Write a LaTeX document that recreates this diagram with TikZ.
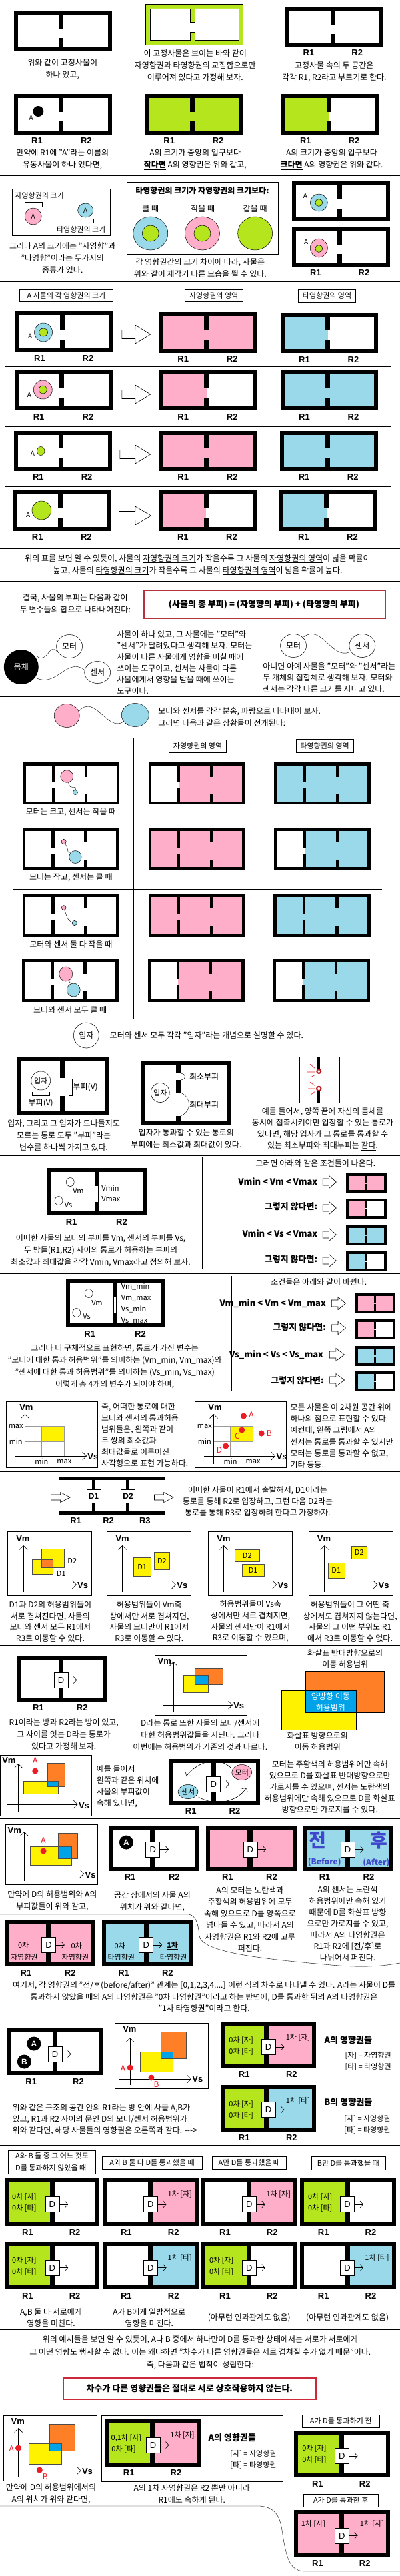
\documentclass[tikz,border=0pt]{standalone}
\usepackage{fontspec}
\setmainfont{Noto Sans CJK KR}
\newfontfamily\arial{Liberation Sans}
\usetikzlibrary{arrows.meta}
\definecolor{cgreen}{HTML}{B5E61D}
\definecolor{cpink}{HTML}{FFAEC9}
\definecolor{cblue}{HTML}{99D9EA}
\definecolor{cyel}{HTML}{FFF200}
\definecolor{corange}{HTML}{FF7F27}
\definecolor{cazure}{HTML}{00A2E8}
\definecolor{cred}{HTML}{ED1C24}
\definecolor{cindigo}{HTML}{3F48CC}
\definecolor{boxred}{HTML}{B3343F}
\definecolor{boxred2}{HTML}{CC2A3A}
\newcounter{nn}
\newcommand\T[3][]{\stepcounter{nn}\node[txt,#1] (n\arabic{nn}) at (#2) {#3};}
\newcommand\RL[3]{\stepcounter{nn}\node[lab] (n\arabic{nn}) at (#1,#3) {R1};\stepcounter{nn}\node[lab] (n\arabic{nn}) at (#2,#3) {R2};}
\newcommand\D[2]{\stepcounter{nn}\node[dbox] (n\arabic{nn}) at (#1,#2) {D};\draw[barb] (n\arabic{nn}.east) -- ++(13pt,0pt);}
% x1 y1 x2 y2 dx gy1 gy2 cL cR
\newcommand\room[9]{%
 \fill[black] (#1,#2) rectangle (#3,#4);
 \fill[#8] ({#1+15.7},{#2+6}) rectangle (#5,{#4-6});
 \fill[#9] (#5,{#2+6}) rectangle ({#3-15.7},{#4-6});
 \fill[black] ({#5-9.5},#2) rectangle ({#5+9.5},#6);
 \fill[black] ({#5-9.5},#7) rectangle ({#5+9.5},#4);}
% x1 y1 x2 y2 d1 d2 c1 c2 c3
\newcommand\roomthree[9]{%
 \fill[black] (#1,#2) rectangle (#3,#4);
 \fill[#7] ({#1+11.8},{#2+4.5}) rectangle (#5,{#4-4.5});
 \fill[#8] (#5,{#2+4.5}) rectangle (#6,{#4-4.5});
 \fill[#9] (#6,{#2+4.5}) rectangle ({#3-11.8},{#4-4.5});
 \fill[black] ({#5-5.5},#2) rectangle ({#5+5.5},{#2+30});
 \fill[black] ({#5-5.5},{#2+39}) rectangle ({#5+5.5},#4);
 \fill[black] ({#6-5.5},#2) rectangle ({#6+5.5},{#2+22});
 \fill[black] ({#6-5.5},{#2+48}) rectangle ({#6+5.5},#4);}
% x1 y1 x2 y2 dx cL cR
\newcommand\minibox[7]{%
 \fill[black] (#1,#2) rectangle (#3,#4);
 \fill[#6] ({#1+10.5},{#2+4}) rectangle (#5,{#4-4});
 \fill[#7] (#5,{#2+4}) rectangle ({#3-10.5},{#4-4});
 \fill[black] ({#5-4},#2) rectangle ({#5+4},{(#2+#4)/2-1});
 \fill[black] ({#5-4},{(#2+#4)/2+1}) rectangle ({#5+4},#4);}
% x1 hx x2 yc shaft head
\newcommand\barrow[6]{\filldraw[fill=white,draw=black,line width=0.6pt] (#1,{#4-#5}) -- (#2,{#4-#5}) -- (#2,{#4-#6}) -- (#3,#4) -- (#2,{#4+#6}) -- (#2,{#4+#5}) -- (#1,{#4+#5}) -- cycle;}
\tikzset{
 txt/.style={font=\fontsize{12}{18}\selectfont, align=center, inner sep=0pt},
 mid/.style={font=\fontsize{11}{13}\selectfont},
 small/.style={font=\fontsize{10}{12}\selectfont},
 lab/.style={font=\arial\bfseries\fontsize{13}{15}\selectfont, inner sep=0pt},
 gl/.style={font=\arial\bfseries\fontsize{13}{15}\selectfont},
 bld/.style={font=\bfseries\fontsize{13}{16}\selectfont},
 sep/.style={line width=0.8pt},
 dbox/.style={draw, fill=white, line width=0.6pt, minimum width=21pt, minimum height=23pt, inner sep=0pt, font=\arial\fontsize{13}{15}\selectfont},
 barb/.style={-{Straight Barb[length=4.5pt,width=10pt]}, line width=0.6pt},
 ax/.style={-{Straight Barb[length=6pt,width=12pt]}, line width=0.6pt},
 gbox/.style={draw, line width=0.7pt},
 ell/.style={draw=black, line width=0.5pt},
 hbox/.style={draw, line width=0.6pt},
 rl/.style={draw=black!70, line width=0.4pt}
}
\begin{document}
\begin{tikzpicture}[x=0.38265pt,y=-1pt]
\useasboundingbox (0,0) rectangle (1568,3862);
\fill[white] (0,0) rectangle (1568,3862);
%% ---------- Section 1
\room{55}{16}{438}{77}{240}{43}{57}{white}{white}
\T{245,103.5}{위와 같이 고정사물이\\하나 있고,}
\filldraw[fill=cgreen,draw=black,line width=0.5pt] (570,6) rectangle (952,67);
\filldraw[fill=white,draw=black,line width=0.5pt] (588,13) -- (745,13) -- (745,33) -- (765,33) -- (765,13) -- (935,13) -- (935,60) -- (765,60) -- (765,48) -- (745,48) -- (745,60) -- (588,60) -- cycle;
\T{765,98.5}{이 고정사물은 보이는 바와 같이\\자영향권과 타영향권의 교집합으로만\\이루어져 있다고 가정해 보자.}
\room{1118}{10}{1502}{71}{1305}{37}{51}{white}{white}
\RL{1210}{1400}{79}
\T{1310,107.5}{고정사물 속의 두 공간은\\각각 R1, R2라고 부르기로 한다.}
\draw[sep] (0,130) -- (1568,130);
%% ---------- Section 2
\room{55}{141}{438}{202}{240}{168}{182}{white}{white}
\fill (150,167) circle[radius=8pt];
\T[small]{122,177}{A}
\RL{145}{338}{211}
\T{245,239}{만약에 R1에 "A"라는 이름의\\유동사물이 하나 있다면,}
\room{570}{141}{952}{202}{755}{168}{182}{cgreen}{cgreen}
\RL{663}{855}{211}
\T{765,239}{A의 크기가 중앙의 입구보다\\\underline{\textbf{작다면}} A의 영향권은 위와 같고,}
\room{1103}{141}{1487}{202}{1290}{168}{182}{cgreen}{white}
\RL{1198}{1388}{211}
\T{1300,239}{A의 크기가 중앙의 입구보다\\\underline{\textbf{크다면}} A의 영향권은 위와 같다.}
\draw[sep] (0,263) -- (1568,263);
%% ---------- Section 3
\draw[line width=0.6pt] (48,283) rectangle (432,353);
\T[mid,anchor=west]{58,293}{자영향권의 크기}
\draw (97,310) -- (97,303) -- (165,303) -- (165,310);
\filldraw[ell,fill=cpink] (130,324.5) ellipse[x radius=12.5pt,y radius=12.5pt];
\T[small]{130,324.5}{A}
\filldraw[ell,fill=cblue] (335,315.5) ellipse[x radius=11.5pt,y radius=10.5pt];
\T[small]{335,315.5}{A}
\draw (317,328) -- (317,334) -- (367,334) -- (367,328);
\T[mid]{318,344}{타영향권의 크기}
\T{245,387}{그러나 A의 크기에는 "자영향"과\\"타영향"이라는 두가지의\\종류가 있다.}
\draw[line width=0.6pt] (498,273) rectangle (1090,381);
\T[font=\bfseries\fontsize{12}{14}\selectfont]{793,286}{타영향권의 크기가 자영향권의 크기보다:}
\T{590,313}{클 때}
\T{795,313}{작을 때}
\T{1000,313}{같을 때}
\filldraw[ell,fill=cblue] (590,350) ellipse[x radius=26pt,y radius=25pt];
\filldraw[ell,fill=cgreen] (590,350) ellipse[x radius=12.5pt,y radius=12pt];
\filldraw[ell,fill=cpink] (793,350) ellipse[x radius=26pt,y radius=25pt];
\filldraw[ell,fill=cgreen] (793,350) ellipse[x radius=12.5pt,y radius=12pt];
\filldraw[ell,fill=cgreen] (1000,350) ellipse[x radius=26pt,y radius=25pt];
\T{785,401.5}{각 영향권간의 크기 차이에 따라, 사물은\\위와 같이 제각기 다른 모습을 띌 수 있다.}
\room{1145}{272}{1528}{332}{1330}{299}{313}{white}{white}
\T[small]{1197,294}{A}
\filldraw[ell,fill=cblue] (1250,304) ellipse[x radius=13pt,y radius=13pt];
\filldraw[ell,fill=cgreen] (1250,304) ellipse[x radius=5.5pt,y radius=5.5pt];
\room{1145}{340}{1528}{400}{1330}{367}{381}{white}{white}
\T[small]{1200,363}{A}
\filldraw[ell,fill=cpink] (1250,372) ellipse[x radius=13pt,y radius=14pt];
\filldraw[ell,fill=cgreen] (1250,373) ellipse[x radius=5.5pt,y radius=5.5pt];
\RL{1237}{1427}{409}
\draw[sep] (0,422) -- (1568,422);
%% ---------- Section 4 table
\draw (513,427) -- (513,816);
\draw[hbox] (77,434) rectangle (442,452); \T[mid]{260,443}{A 사물의 각 영향권의 크기}
\draw[hbox] (725,434) rectangle (952,452); \T[mid]{838,443}{자영향권의 영역}
\draw[hbox] (1170,434) rectangle (1395,453); \T[mid]{1282,443.5}{타영향권의 영역}
% row 1
\room{60}{467}{443}{528}{245}{494}{509}{white}{white}
\filldraw[ell,fill=cblue] (170,498) ellipse[x radius=13.5pt,y radius=14pt];
\filldraw[ell,fill=cgreen] (170,498) ellipse[x radius=6.5pt,y radius=6pt];
\T[small]{118,504}{A}
\barrow{478}{530}{590}{501}{6.5}{14}
\room{625}{468}{1008}{529}{810}{495}{509}{cpink}{cpink}
\room{1100}{469}{1483}{529}{1285}{495}{509}{cblue}{white}
\RL{155}{345}{537}\RL{718}{910}{538}\RL{1193}{1385}{539}
\draw (22,549) -- (1532,549);
% row 2
\room{58}{555}{442}{615}{242}{582}{596}{white}{white}
\filldraw[ell,fill=cpink] (168,584) ellipse[x radius=14pt,y radius=14pt];
\filldraw[ell,fill=cgreen] (168,584) ellipse[x radius=6pt,y radius=6pt];
\T[small]{115,592}{A}
\barrow{478}{530}{590}{591}{6.5}{14}
\room{625}{555}{1008}{615}{810}{582}{596}{cpink}{white}
\room{1100}{555}{1483}{615}{1285}{582}{596}{cblue}{cblue}
\RL{152}{345}{625}\RL{718}{910}{625}\RL{1193}{1385}{625}
\draw (22,639) -- (1532,639);
% row 3
\room{55}{646}{438}{706}{240}{672}{686}{white}{white}
\filldraw[ell,fill=cgreen] (160,676) ellipse[x radius=5.7pt,y radius=6.5pt];
\T[small]{128,680}{A}
\barrow{470}{530}{590}{681}{6.5}{14}
\room{625}{646}{1008}{706}{810}{672}{686}{cpink}{cpink}
\room{1098}{646}{1482}{706}{1283}{672}{686}{cblue}{cblue}
\RL{150}{340}{715}\RL{718}{910}{715}\RL{1192}{1383}{715}
\draw (22,729) -- (1532,729);
% row 4
\room{52}{735}{435}{796}{237}{762}{776}{white}{white}
\filldraw[ell,fill=cgreen] (163,765) ellipse[x radius=14.4pt,y radius=14pt];
\T[small]{110,772}{A}
\barrow{466}{530}{592}{773}{6.5}{14}
\room{622}{735}{1005}{796}{808}{762}{776}{cpink}{white}
\room{1095}{735}{1478}{796}{1280}{762}{776}{cblue}{white}
\RL{147}{338}{805}\RL{717}{908}{805}\RL{1190}{1381}{805}
\draw[sep] (0,822) -- (1568,822);
%% ---------- Section 5
\T{775,846.5}{위의 표를 보면 알 수 있듯이, 사물의 \underline{자영향권의 크기}가 작을수록 그 사물의 \underline{자영향권의 영역}이 넓을 확률이\\높고, 사물의 \underline{타영향권의 크기}가 작을수록 그 사물의 \underline{타영향권의 영역}이 넓을 확률이 높다.}
\draw[sep] (0,871) -- (1568,871);
\T{295,905.5}{결국, 사물의 부피는 다음과 같이\\두 변수들의 합으로 나타내어진다:}
\draw[draw=boxred,line width=2pt] (565,885) rectangle (1510,927);
\T[bld]{1035,906}{(사물의 총 부피) = (자영향의 부피) + (타영향의 부피)}
\draw[sep] (0,938) -- (1568,938);
%% ---------- Section 6
\draw (145,984) .. controls (185,996) and (195,962) .. (224,977);
\draw (140,1016) .. controls (220,1032) and (262,985) .. (330,1004);
\fill[black] (83,1000) circle[radius=26pt];
\T[text=white]{83,1000}{몸체}
\filldraw[ell,fill=white] (272,969) ellipse[x radius=19.5pt,y radius=17.5pt];
\T{272,969}{모터}
\filldraw[ell,fill=white] (382,1008) ellipse[x radius=19.5pt,y radius=16.5pt];
\T{382,1008}{센서}
\T[font=\fontsize{12}{17}\selectfont,align=left,anchor=west]{458,993.5}{사물이 하나 있고, 그 사물에는 "모터"와\\"센서"가 달려있다고 생각해 보자. 모터는\\사물이 다른 사물에게 영향을 미칠 때에\\쓰이는 도구이고, 센서는 사물이 다른\\사물에게서 영향을 받을 때에 쓰이는\\도구이다.}
\draw (1190,955) .. controls (1260,935) and (1300,988) .. (1368,978);
\filldraw[ell,fill=white] (1150,968) ellipse[x radius=19.5pt,y radius=17.5pt];
\T{1150,968}{모터}
\filldraw[ell,fill=white] (1420,968) ellipse[x radius=19.5pt,y radius=17.5pt];
\T{1420,968}{센서}
\T[font=\fontsize{12}{17}\selectfont,align=left,anchor=west]{1030,1016.5}{아니면 아예 사물을 "모터"와 "센서"라는\\두 개체의 집합체로 생각해 보자. 모터와\\센서는 각각 다른 크기를 지니고 있다.}
\draw[sep] (0,1044) -- (1568,1044);
%% ---------- Section 7
\draw (310,1066) .. controls (370,1040) and (420,1096) .. (480,1083);
\filldraw[ell,fill=cpink] (262,1073) ellipse[x radius=19pt,y radius=17.5pt];
\filldraw[ell,fill=cblue] (530,1072) ellipse[x radius=20.5pt,y radius=17.5pt];
\T[align=left,anchor=west]{620,1074.5}{모터와 센서를 각각 분홍, 파랑으로 나타내어 보자.\\그러면 다음과 같은 상황들이 전개된다:}
\draw (524,1106) -- (524,1527);
\draw[hbox] (662,1109) rectangle (888,1128); \T[mid]{775,1118.5}{자영향권의 영역}
\draw[hbox] (1160,1108) rectangle (1387,1128); \T[mid]{1273,1118}{타영향권의 영역}
% row 1
\roomthree{90}{1143}{468}{1206}{210}{338}{white}{white}{white}
\draw (268,1173) .. controls (275,1188) and (302,1174) .. (296,1185);
\filldraw[ell,fill=cpink] (262,1164) ellipse[x radius=9.5pt,y radius=9.3pt];
\filldraw[ell,fill=cblue] (295,1188) circle[radius=3.6pt];
\T{278,1218}{모터는 크고, 센서는 작을 때}
\roomthree{582}{1143}{960}{1206}{700}{828}{white}{cpink}{cpink}
\roomthree{1075}{1143}{1453}{1206}{1195}{1323}{cblue}{cblue}{cblue}
\draw (42,1232) -- (1502,1232);
% row 2
\roomthree{88}{1241}{466}{1304}{208}{335}{white}{white}{white}
\draw (253,1265) .. controls (275,1272) and (255,1282) .. (284,1277);
\filldraw[ell,fill=cpink] (250,1262) circle[radius=3.6pt];
\filldraw[ell,fill=cblue] (295,1285) ellipse[x radius=9.2pt,y radius=9.5pt];
\T{278,1316}{모터는 작고, 센서는 클 때}
\roomthree{582}{1241}{960}{1304}{700}{828}{cpink}{cpink}{cpink}
\roomthree{1075}{1241}{1453}{1304}{1195}{1323}{white}{cblue}{cblue}
\draw (50,1333) -- (1497,1333);
% row 3
\roomthree{88}{1340}{466}{1405}{208}{335}{white}{white}{white}
\draw (252,1364) .. controls (262,1372) and (262,1382) .. (289,1383);
\filldraw[ell,fill=cpink] (250,1361) circle[radius=3.4pt];
\filldraw[ell,fill=cblue] (292,1384) circle[radius=3.6pt];
\T{278,1416}{모터와 센서 둘 다 작을 때}
\roomthree{582}{1340}{960}{1405}{700}{828}{cpink}{cpink}{cpink}
\roomthree{1072}{1340}{1452}{1405}{1192}{1321}{cblue}{cblue}{cblue}
\draw (45,1430) -- (1505,1430);
% row 4
\roomthree{86}{1438}{464}{1502}{205}{333}{white}{white}{white}
\draw (268,1470) -- (282,1476);
\filldraw[ell,fill=cpink] (258,1460) ellipse[x radius=10pt,y radius=11pt];
\filldraw[ell,fill=cblue] (288,1484) ellipse[x radius=10pt,y radius=10pt];
\T{275,1514}{모터와 센서 모두 클 때}
\roomthree{580}{1438}{958}{1502}{698}{826}{white}{cpink}{cpink}
\roomthree{1070}{1438}{1450}{1502}{1190}{1318}{white}{cblue}{cblue}
\draw[sep] (0,1527) -- (1568,1527);
%% ---------- Section 8
\draw[ell] (338,1552) ellipse[x radius=19pt,y radius=19pt];
\T{338,1552}{입자}
\T[anchor=west]{430,1552}{모터와 센서 모두 각각 "입자"라는 개념으로 설명할 수 있다.}
\draw[sep] (0,1575) -- (1568,1575);
%% ---------- Section 9
\room{68}{1584}{425}{1672}{245}{1616}{1643}{white}{white}
\draw[ell] (160,1620) ellipse[x radius=14.5pt,y radius=14pt];
\T[mid]{160,1620}{입자}
\draw (125,1637) -- (125,1642) -- (195,1642) -- (195,1637);
\T{160,1654}{부피(V)}
\draw (270,1617) -- (282,1617) -- (282,1642) -- (270,1642);
\T{335,1630}{부피(V)}
\T{250,1702}{입자, 그리고 그 입자가 드나들지도\\모르는 통로 모두 "부피"라는\\변수를 하나씩 가지고 있다.}
\fill[black] (552,1590) rectangle (905,1686);
\fill[white] (567.7,1596) rectangle (889.3,1680);
\fill[black] (689,1590) rectangle (707,1609);
\fill[black] (689,1619) rectangle (707,1638);
\fill[black] (689,1673) rectangle (707,1686);
\draw (708,1609) .. controls (732,1610) and (732,1618) .. (708,1619);
\draw (708,1638) .. controls (752,1645) and (752,1666) .. (708,1673);
\draw[ell] (628,1638) ellipse[x radius=14pt,y radius=14.5pt];
\T[mid]{628,1638}{입자}
\T{800,1614}{최소부피}
\T{800,1656}{최대부피}
\T{730,1707}{입자가 통과할 수 있는 통로의\\부피에는 최소값과 최대값이 있다.}
\draw[line width=0.6pt] (1175,1584) rectangle (1330,1653);
\fill[black] (1245,1584) rectangle (1255,1603);
\fill[black] (1245,1636) rectangle (1255,1653);
\filldraw[fill=white,draw=cred!80!black,line width=2pt] (1250,1606) circle[radius=3pt];
\filldraw[fill=white,draw=cred!80!black,line width=2pt] (1250,1632) circle[radius=3.3pt];
\draw[cred,line width=0.6pt] (1215,1595) -- (1236,1602) (1205,1607) -- (1233,1607) (1222,1614) -- (1237,1611);
\draw[cred,line width=0.6pt] (1215,1622) -- (1236,1628) (1208,1632) -- (1234,1632) (1215,1642) -- (1236,1636);
\T[font=\fontsize{12}{17}\selectfont]{1265,1692.5}{예를 들어서, 양쪽 끝에 자신의 몸체를\\동시에 접촉시켜야만 입장할 수 있는 통로가\\있다면, 해당 입자가 그 통로를 통과할 수\\있는 최소부피와 최대부피는 \underline{같다}.}
\draw[sep] (0,1732) -- (1568,1732);
%% ---------- Section 10
\draw (793,1735) -- (793,1903);
\fill[black] (183,1751) rectangle (575,1822);
\fill[white] (198.7,1757) rectangle (559.3,1816);
\fill[black] (370,1751) rectangle (386,1777);
\fill[black] (370,1802) rectangle (386,1822);
\draw[line width=0.6pt,fill=white] (372,1777) rectangle (384,1802);
\draw[ell] (275,1772) ellipse[x radius=6pt,y radius=6.5pt];
\T[mid]{307,1785}{Vm}
\draw[ell] (230,1800) ellipse[x radius=6pt,y radius=6.5pt];
\T[mid]{268,1807}{Vs}
\T[mid,anchor=west]{398,1781}{Vmin}
\T[mid,anchor=west]{398,1798}{Vmax}
\RL{280}{477}{1832}
\T{395,1874.5}{어떠한 사물의 모터의 부피를 Vm, 센서의 부피를 Vs,\\두 방들(R1,R2) 사이의 통로가 허용하는 부피의\\최소값과 최대값을 각각 Vmin, Vmax라고 정의해 보자.}
\T{1237,1744}{그러면 아래와 같은 조건들이 나온다.}
\T[bld,anchor=east]{1245,1771}{Vmin < Vm < Vmax}
\T[bld,anchor=east]{1245,1809}{그렇지 않다면:}
\T[bld,anchor=east]{1245,1849}{Vmin < Vs < Vmax}
\T[bld,anchor=east]{1245,1888}{그렇지 않다면:}
\barrow{1265}{1290}{1318}{1772}{5}{9.5}
\barrow{1265}{1290}{1318}{1811}{5}{9.5}
\barrow{1265}{1290}{1318}{1851}{5}{9.5}
\barrow{1265}{1290}{1318}{1890}{5}{9.5}
\minibox{1357}{1759}{1515}{1788}{1433}{cpink}{cpink}
\minibox{1357}{1797}{1515}{1827}{1433}{cpink}{white}
\minibox{1357}{1837}{1515}{1867}{1433}{cblue}{cblue}
\minibox{1357}{1876}{1515}{1906}{1433}{cblue}{white}
\draw[sep] (0,1909) -- (1568,1909);
%% ---------- Section 11
\draw (907,1913) -- (907,2085);
\fill[black] (258,1918) rectangle (648,1989);
\fill[white] (273.7,1924) rectangle (632.3,1983);
\fill[black] (442,1918) rectangle (458,1944);
\fill[black] (442,1969) rectangle (458,1989);
\draw[line width=0.6pt,fill=white] (444,1944) rectangle (456,1969);
\T[mid,anchor=west]{475,1929}{Vm\_min}
\T[mid,anchor=west]{475,1946}{Vm\_max}
\T[mid,anchor=west]{475,1963}{Vs\_min}
\T[mid,anchor=west]{475,1980}{Vs\_max}
\draw[ell] (348,1939) ellipse[x radius=6pt,y radius=6.5pt];
\T[mid]{380,1953}{Vm}
\draw[ell] (300,1968) ellipse[x radius=6pt,y radius=6.5pt];
\T[mid]{340,1974}{Vs}
\RL{352}{550}{2000}
\T{450,2048.5}{그러나 더 구체적으로 표현하면, 통로가 가진 변수는\\"모터에 대한 통과 허용범위"를 의미하는 (Vm\_min, Vm\_max)와\\"센서에 대한 통과 허용범위"를 의미하는 (Vs\_min, Vs\_max)\\이렇게 총 4개의 변수가 되어야 하며,}
\T{1250,1922}{조건들은 아래와 같이 바뀐다.}
\T[bld,anchor=east]{1278,1954}{Vm\_min < Vm < Vm\_max}
\T[bld,anchor=east]{1278,1990}{그렇지 않다면:}
\T[bld,anchor=east]{1268,2031}{Vs\_min < Vs < Vs\_max}
\T[bld,anchor=east]{1270,2070}{그렇지 않다면:}
\barrow{1300}{1325}{1355}{1954}{5}{9.5}
\barrow{1300}{1325}{1355}{1991}{5}{9.5}
\barrow{1292}{1317}{1350}{2031}{5}{9.5}
\barrow{1292}{1317}{1350}{2069}{5}{9.5}
\minibox{1393}{1939}{1550}{1969}{1470}{cpink}{cpink}
\minibox{1393}{1978}{1550}{2008}{1470}{cpink}{white}
\minibox{1393}{2018}{1550}{2048}{1470}{cblue}{cblue}
\minibox{1393}{2056}{1550}{2086}{1470}{cblue}{white}
\draw[sep] (0,2091) -- (1568,2091);
%% ---------- Section 12
\draw[gbox] (25,2101) rectangle (383,2200);
\draw[black!40] (98,2138) -- (252,2138) (98,2161) -- (252,2161) (163,2138) -- (163,2183) (252,2138) -- (252,2183);
\filldraw[fill=cyel,draw=black!40] (163,2138) rectangle (252,2161);
\draw[ax] (98,2195) -- (98,2120);
\draw[ax] (60,2183) -- (340,2183);
\T[gl]{103,2110}{Vm}
\T[gl,anchor=west]{343,2184}{Vs}
\T[mid]{62,2138}{max}\T[mid]{62,2161}{min}\T[mid]{163,2191}{min}\T[mid]{252,2191}{max}
\T[font=\fontsize{12}{17}\selectfont,align=left,anchor=west]{397,2151.5}{즉, 어떠한 통로에 대한\\모터와 센서의 통과허용\\범위들은, 왼쪽과 같이\\두 쌍의 최소값과\\최대값들로 이루어진\\사각형으로 표현 가능하다.}
\draw[gbox] (765,2101) rectangle (1122,2200);
\draw[black!40] (838,2138) -- (992,2138) (838,2161) -- (992,2161) (903,2138) -- (903,2183) (992,2138) -- (992,2183);
\filldraw[fill=cyel,draw=black!40] (903,2138) rectangle (992,2161);
\draw[ax] (838,2195) -- (838,2120);
\draw[ax] (800,2183) -- (1080,2183);
\T[gl]{843,2110}{Vm}
\T[gl,anchor=west]{1083,2184}{Vs}
\T[mid]{802,2138}{max}\T[mid]{802,2161}{min}\T[mid]{903,2191}{min}\T[mid]{992,2191}{max}
\fill[cred] (955,2123) circle[radius=4.5pt]; \T[text=cred]{985,2121}{A}
\fill[cred] (1025,2149) circle[radius=4.5pt]; \T[text=cred]{1055,2149}{B}
\fill[cred] (948,2144) circle[radius=4.5pt]; \T[text=cred]{930,2153}{C}
\fill[cred] (885,2168) circle[radius=4.5pt]; \T[text=cred]{860,2174}{D}
\T[font=\fontsize{12}{17.2}\selectfont,align=left,anchor=west]{1138,2153}{모든 사물은 이 2차원 공간 위에\\하나의 점으로 표현할 수 있다.\\예컨데, 왼쪽 그림에서 A의\\센서는 통로를 통과할 수 있지만\\모터는 통로를 통과할 수 없고,\\기타 등등..}
\draw[sep] (0,2206) -- (1568,2206);
%% ---------- Section 13
\fill[black] (230,2215) rectangle (648,2219);
\fill[black] (230,2266) rectangle (648,2271);
\fill[black] (360,2219) rectangle (374,2266);
\fill[black] (493,2219) rectangle (507,2266);
\node[dbox,minimum height=19.5pt,font=\arial\bfseries\fontsize{12}{14}\selectfont] (d1) at (367,2243.5) {D1};
\node[dbox,minimum height=19.5pt,font=\arial\bfseries\fontsize{12}{14}\selectfont] (d2) at (502,2243.5) {D2};
\barrow{200}{237}{275}{2245}{4}{7.5}
\barrow{605}{642}{680}{2245}{4}{7.5}
\stepcounter{nn}\node[lab] (n\arabic{nn}) at (297,2280) {R1};
\stepcounter{nn}\node[lab] (n\arabic{nn}) at (425,2280) {R2};
\stepcounter{nn}\node[lab] (n\arabic{nn}) at (568,2280) {R3};
\T[font=\fontsize{12}{17}\selectfont]{1010,2251}{어떠한 사물이 R1에서 출발해서, D1이라는\\통로를 통해 R2로 입장하고, 그런 다음 D2라는\\통로를 통해 R3로 입장하려 한다고 가정하자.}
%% ---------- Section 14
% graph 1
\draw[gbox] (30,2296) rectangle (360,2392);
\draw[ax] (92,2387) -- (92,2317);
\draw[ax] (50,2376) -- (300,2376);
\T[gl]{90,2307}{Vm}\T[gl,anchor=west]{303,2377}{Vs}
\filldraw[fill=cyel,rl] (125,2338) rectangle (207,2360);
\filldraw[fill=cyel,rl] (163,2322) rectangle (252,2350);
\filldraw[fill=corange,rl] (163,2338) rectangle (207,2350);
\draw[rl] (125,2338) rectangle (207,2360);
\T[mid]{283,2340}{D2}\T[mid]{240,2359}{D1}
% graph 2
\draw[gbox] (420,2296) rectangle (748,2392);
\draw[ax] (480,2387) -- (480,2317);
\draw[ax] (440,2376) -- (690,2376);
\T[gl]{480,2307}{Vm}\T[gl,anchor=west]{693,2377}{Vs}
\filldraw[fill=cyel,rl] (523,2335) rectangle (592,2363); \T[mid]{557,2349}{D1}
\filldraw[fill=cyel,rl] (605,2327) rectangle (665,2353); \T[mid]{635,2340}{D2}
% graph 3
\draw[gbox] (817,2296) rectangle (1145,2392);
\draw[ax] (877,2387) -- (877,2317);
\draw[ax] (835,2376) -- (1085,2376);
\T[gl]{877,2307}{Vm}\T[gl,anchor=west]{1088,2377}{Vs}
\filldraw[fill=cyel,rl] (920,2323) rectangle (1018,2341); \T[mid]{969,2332}{D2}
\filldraw[fill=cyel,rl] (950,2345) rectangle (1035,2363); \T[mid]{992,2354}{D1}
% graph 4
\draw[gbox] (1210,2296) rectangle (1540,2392);
\draw[ax] (1272,2387) -- (1272,2317);
\draw[ax] (1230,2376) -- (1480,2376);
\T[gl]{1270,2307}{Vm}\T[gl,anchor=west]{1483,2377}{Vs}
\filldraw[fill=cyel,rl] (1285,2343) rectangle (1352,2366); \T[mid]{1318,2354.5}{D1}
\filldraw[fill=cyel,rl] (1378,2318) rectangle (1438,2337); \T[mid]{1408,2327.5}{D2}
\T[font=\fontsize{12}{16.7}\selectfont]{197,2431}{D1과 D2의 허용범위들이\\서로 겹쳐진다면, 사물의\\모터와 센서 모두 R1에서\\R3로 이동할 수 있다.}
\T[font=\fontsize{12}{16.7}\selectfont]{585,2431}{허용범위들이 Vm축\\상에서만 서로 겹쳐지면,\\사물의 모터만이 R1에서\\R3로 이동할 수 있다.}
\T[font=\fontsize{12}{16.7}\selectfont]{982,2431}{허용범위들이 Vs축\\상에서만 서로 겹쳐지면,\\사물의 센서만이 R1에서\\R3로 이동할 수 있으며,}
\T[font=\fontsize{12}{16.7}\selectfont]{1372,2431}{허용범위들이 그 어떤 축\\상에서도 겹쳐지지 않는다면,\\사물의 그 어떤 부위도 R1\\에서 R3로 이동할 수 없다.}
\draw[sep] (0,2466) -- (1568,2466);
%% ---------- Section 15
\room{65}{2482}{420}{2552}{240}{2500}{2500}{white}{white}
\D{239}{2518.5}
\RL{150}{322}{2560}
\T{250,2599.5}{R1이라는 방과 R2라는 방이 있고,\\그 사이를 잇는 D라는 통로가\\있다고 가정해 보자.}
\draw[gbox] (607,2481) rectangle (968,2571);
\draw[ax] (680,2566) -- (680,2491);
\draw[ax] (638,2556) -- (912,2556);
\T[gl]{645,2490}{Vm}\T[gl,anchor=west]{915,2557}{Vs}
\filldraw[fill=corange,rl] (763,2501) rectangle (873,2525);
\filldraw[fill=cyel,rl] (720,2511) rectangle (816,2537);
\filldraw[fill=cazure,rl] (763,2511) rectangle (816,2525);
\T{785,2601}{D라는 통로 또한 사물의 모터/센서에\\대한 허용범위값들을 지닌다. 그러나\\이번에는 허용범위가 기존의 것과 다르다.}
\T[font=\fontsize{12}{17}\selectfont]{1353,2486.5}{화살표 반대방향으로의\\이동 허용범위}
\filldraw[fill=corange,draw=black,line width=0.5pt] (1198,2505) rectangle (1507,2567);
\filldraw[fill=cyel,draw=black,line width=0.5pt] (1103,2534) rectangle (1395,2593);
\filldraw[fill=cazure,draw=black,line width=0.5pt] (1198,2534) rectangle (1395,2567);
\T[font=\fontsize{12}{17}\selectfont,text=white]{1296,2551}{양방향 이동\\허용범위}
\T[font=\fontsize{12}{17}\selectfont]{1245,2610.5}{화살표 방향으로의\\이동 허용범위}
\draw[sep] (0,2629) -- (1568,2629);
%% ---------- Section 16
\draw[gbox] (0,2631) rectangle (360,2722);
\draw[ax] (72,2717) -- (72,2644);
\draw[ax] (30,2705) -- (305,2705);
\T[gl]{35,2639}{Vm}\T[gl,anchor=west]{308,2707}{Vs}
\filldraw[fill=corange,rl] (185,2643) rectangle (255,2678);
\filldraw[fill=cyel,rl] (92,2670) rectangle (227,2689);
\filldraw[fill=cazure,rl] (185,2670) rectangle (227,2678);
\fill[cred] (138,2655) circle[radius=4.5pt]; \T[text=cred]{138,2639}{A}
\T[font=\fontsize{12}{17}\selectfont,align=left,anchor=west]{378,2678.5}{예를 들어서\\왼쪽과 같은 위치에\\사물의 부피값이\\속해 있다면,}
\room{665}{2637}{1018}{2706}{838}{2660}{2660}{white}{white}
\D{837}{2674.5}
\draw[barb] (905,2650) .. controls (860,2634) and (780,2638) .. (730,2663);
\draw[barb] (778,2694) .. controls (840,2708) and (930,2702) .. (966,2680);
\filldraw[ell,fill=cpink] (948,2657) ellipse[x radius=15pt,y radius=11.5pt];
\T[mid]{948,2657}{모터}
\filldraw[ell,fill=cblue] (737,2686) ellipse[x radius=15pt,y radius=10.5pt];
\T[mid]{737,2686}{센서}
\RL{748}{920}{2715}
\T[font=\fontsize{12}{17}\selectfont]{1293,2679}{모터는 주황색의 허용범위에만 속해\\있으므로 D를 화살표 반대방향으로만\\가로지를 수 있으며, 센서는 노란색의\\허용범위에만 속해 있으므로 D를 화살표\\방향으로만 가로지를 수 있다.}
\draw[sep] (0,2726) -- (1568,2726);
%% ---------- Section 17
\draw[gbox] (22,2735) rectangle (383,2825);
\draw[ax] (95,2820) -- (95,2746);
\draw[ax] (50,2809) -- (330,2809);
\T[gl]{57,2744}{Vm}\T[gl,anchor=west]{333,2811}{Vs}
\filldraw[fill=corange,rl] (227,2748) rectangle (303,2786);
\filldraw[fill=cyel,rl] (118,2768) rectangle (280,2796);
\filldraw[fill=cazure,rl] (227,2768) rectangle (280,2786);
\fill[cred] (170,2775) circle[radius=4.5pt]; \T[text=cred]{170,2759}{A}
\T{205,2849.5}{만약에 D의 허용범위와 A의\\부피값들이 위와 같고,}
\room{427}{2737}{780}{2805}{598}{2760}{2760}{white}{white}
\D{599}{2772.5}
\fill[black] (495,2762) circle[radius=10.5pt];
\T[font=\arial\bfseries\fontsize{12}{14}\selectfont,text=white]{495,2762}{A}
\RL{510}{683}{2814}
\T{597,2850.5}{공간 상에서의 사물 A의\\위치가 위와 같다면,}
\room{808}{2737}{1162}{2805}{980}{2760}{2760}{cpink}{cpink}
\D{981}{2772.5}
\RL{892}{1065}{2814}
\T[font=\fontsize{12}{17.4}\selectfont]{980,2877.5}{A의 모터는 노란색과\\주황색의 허용범위에 모두\\속해 있으므로 D를 양쪽으로\\넘나들 수 있고, 따라서 A의\\자영향권은 R1와 R2에 고루\\퍼진다.}
\room{1190}{2737}{1543}{2805}{1363}{2760}{2760}{cblue}{cblue}
\D{1363}{2772.5}
\T[font=\bfseries\fontsize{28}{30}\selectfont,text=cindigo]{1245,2759}{전}
\T[font=\bfseries\fontsize{28}{30}\selectfont,text=cindigo]{1485,2759}{후}
\T[font=\bfseries\fontsize{12}{14}\selectfont,text=cindigo]{1272,2792}{(Before)}
\T[font=\bfseries\fontsize{12}{14}\selectfont,text=cindigo]{1475,2793}{(After)}
\RL{1273}{1445}{2814}
\T[font=\fontsize{12}{17}\selectfont]{1363,2884}{A의 센서는 노란색\\허용범위에만 속해 있기\\때문에 D를 화살표 방향\\으로만 가로지를 수 있고,\\따라서 A의 타영향권은\\R1과 R2에 [전/후]로\\나뉘어서 퍼진다.}
\draw (0,2870) -- (740,2870) .. controls (772,2872) and (778,2888) .. (781,2902) .. controls (790,2926) and (1000,2936) .. (1300,2946) .. controls (1450,2951) and (1520,2946) .. (1568,2943);
\room{18}{2878}{373}{2948}{190}{2900}{2900}{cpink}{cpink}
\D{191}{2916}
\T[mid]{92,2916}{0차}\T[mid]{95,2934}{자영향권}
\T[mid]{300,2917}{0차}\T[mid]{295,2934}{자영향권}
\RL{102}{275}{2958}
\room{400}{2878}{755}{2948}{573}{2900}{2900}{cblue}{cblue}
\D{573}{2916}
\T[mid]{470,2917}{0차}\T[mid]{475,2934}{타영향권}
\T[font=\bfseries\fontsize{11}{13}\selectfont]{676,2917}{\underline{1차}}\T[mid]{680,2934}{타영향권}
\RL{485}{657}{2958}
\T[font=\fontsize{12}{17.5}\selectfont]{800,2993.5}{여기서, 각 영향권의 "전/후(before/after)" 관계는 [0,1,2,3,4....] 이런 식의 차수로 나타낼 수 있다. A라는 사물이 D를\\통과하지 않았을 때의 A의 타영향권은 "0차 타영향권"이라고 하는 반면에, D를 통과한 뒤의 A의 타영향권은\\"1차 타영향권"이라고 한다.}
\draw[sep] (0,3022) -- (1568,3022);
%% ---------- Section 18
\room{30}{3041}{405}{3111}{215}{3060}{3060}{white}{white}
\D{216}{3079.5}
\fill[black] (133,3064) circle[radius=10.5pt];
\T[font=\arial\bfseries\fontsize{12}{14}\selectfont,text=white]{133,3064}{A}
\fill[black] (95,3091) circle[radius=10.5pt];
\T[font=\arial\bfseries\fontsize{12}{14}\selectfont,text=white]{95,3091}{B}
\RL{122}{307}{3121}
\draw[gbox] (450,3033) rectangle (817,3131);
\draw[ax] (510,3126) -- (510,3055);
\draw[ax] (468,3117) -- (750,3117);
\T[gl]{508,3042}{Vm}\T[gl,anchor=west]{753,3117}{Vs}
\filldraw[fill=corange,rl] (630,3046) rectangle (730,3086);
\filldraw[fill=cyel,rl] (550,3076) rectangle (678,3106);
\filldraw[fill=cazure,rl] (630,3076) rectangle (678,3086);
\fill[cred] (510,3100) circle[radius=4.5pt]; \T[text=cred]{482,3101}{A}
\fill[cred] (593,3115) circle[radius=4.5pt]; \T[text=cred]{613,3125}{B}
\T[font=\fontsize{12}{17}\selectfont,align=left,anchor=west]{48,3178}{위와 같은 구조의 공간 안의 R1라는 방 안에 사물 A,B가\\있고, R1과 R2 사이의 문인 D의 모터/센서 허용범위가\\위와 같다면, 해당 사물들의 영향권은 오른쪽과 같다. -{}-{}->}
\room{865}{3031}{1240}{3101}{1045}{3050}{3050}{cgreen}{cpink}
\D{1052}{3069}
\T[mid]{945,3059}{0차 [자]}\T[mid]{945,3076}{0차 [타]}\T[mid]{1168,3055}{1차 [자]}
\RL{957}{1143}{3110}
\T[bld]{1365,3059}{A의 영향권들}
\T[mid]{1443,3082}{[자] = 자영향권}
\T[mid]{1443,3099}{[타] = 타영향권}
\room{865}{3126}{1240}{3196}{1045}{3145}{3145}{cgreen}{cblue}
\D{1052}{3163}
\T[mid]{945,3155}{0차 [자]}\T[mid]{945,3172}{0차 [타]}\T[mid]{1168,3150}{1차 [타]}
\RL{957}{1143}{3205}
\T[bld]{1365,3152}{B의 영향권들}
\T[mid]{1440,3177}{[자] = 자영향권}
\T[mid]{1440,3194}{[타] = 타영향권}
\draw[sep] (0,3216) -- (1568,3216);
%% ---------- Section 19
\draw[hbox] (33,3224) rectangle (375,3259);
\T[mid,align=left,font=\fontsize{11}{18}\selectfont]{204,3241.5}{A와 B 둘 중 그 어느 것도\\D를 통과하지 않았을 때}
\draw[hbox] (400,3233) rectangle (792,3252); \T[mid]{596,3242.5}{A와 B 둘 다 D를 통과했을 때}
\draw[hbox] (833,3233) rectangle (1122,3252); \T[mid]{977,3242.5}{A만 D를 통과했을 때}
\draw[hbox] (1220,3233) rectangle (1510,3253); \T[mid]{1365,3243}{B만 D를 통과했을 때}
% row 1
\room{17}{3266}{390}{3337}{205}{3290}{3290}{cgreen}{white}
\D{205}{3305}
\T[mid]{95,3294}{0차 [자]}\T[mid]{95,3311}{0차 [타]}
\room{403}{3266}{778}{3337}{590}{3290}{3290}{white}{cpink}
\D{590}{3305}
\T[mid]{705,3290}{1차 [자]}
\room{790}{3266}{1165}{3337}{977}{3290}{3290}{white}{cpink}
\D{977}{3305}
\T[mid]{1092,3290}{1차 [자]}
\room{1177}{3266}{1552}{3337}{1362}{3290}{3290}{cgreen}{white}
\D{1362}{3305}
\T[mid]{1255,3294}{0차 [자]}\T[mid]{1255,3311}{0차 [타]}
\RL{108}{293}{3347}\RL{495}{680}{3347}\RL{882}{1067}{3347}\RL{1268}{1453}{3347}
% row 2
\room{17}{3361}{390}{3432}{205}{3390}{3390}{cgreen}{white}
\D{205}{3399.5}
\T[mid]{95,3389}{0차 [자]}\T[mid]{95,3406}{0차 [타]}
\room{403}{3361}{778}{3432}{590}{3390}{3390}{white}{cblue}
\D{590}{3399.5}
\T[mid]{705,3385}{1차 [타]}
\room{790}{3361}{1165}{3432}{977}{3390}{3390}{cgreen}{white}
\D{977}{3399.5}
\T[mid]{868,3389}{0차 [자]}\T[mid]{868,3406}{0차 [타]}
\room{1177}{3361}{1552}{3432}{1362}{3390}{3390}{white}{cblue}
\D{1362}{3399.5}
\T[mid]{1478,3385}{1차 [타]}
\RL{108}{293}{3442}\RL{495}{680}{3442}\RL{882}{1067}{3442}\RL{1268}{1453}{3442}
\T[font=\fontsize{12}{17}\selectfont]{200,3474.5}{A,B 둘 다 서로에게\\영향을 미친다.}
\T[font=\fontsize{12}{17}\selectfont]{585,3474.5}{A가 B에게 일방적으로\\영향을 미친다.}
\T{977,3476}{\underline{(아무런 인과관계도 없음)}}
\T{1362,3476}{\underline{(아무런 인과관계도 없음)}}
\draw[sep] (0,3492) -- (1568,3492);
\T[font=\fontsize{12}{19}\selectfont]{785,3527}{위의 예시들을 보면 알 수 있듯이, A나 B 중에서 하나만이 D를 통과한 상태에서는 서로가 서로에게\\그 어떤 영향도 행사할 수 없다. 이는 왜냐하면 "차수가 다른 영향권들은 서로 겹쳐질 수가 없기 때문"이다.\\즉, 다음과 같은 법칙이 성립한다:}
\draw[draw=boxred2,line width=2.5pt] (248,3565) rectangle (1238,3597);
\T[bld]{743,3581}{차수가 다른 영향권들은 절대로 서로 상호작용하지 않는다.}
\draw[sep] (0,3611) -- (1568,3611);
%% ---------- Section 20
\draw[gbox] (13,3621) rectangle (380,3719);
\draw[ax] (72,3713) -- (72,3640);
\draw[ax] (30,3704) -- (318,3704);
\T[gl]{70,3630}{Vm}\T[gl,anchor=west]{321,3705}{Vs}
\filldraw[fill=corange,rl] (193,3634) rectangle (293,3674);
\filldraw[fill=cyel,rl] (113,3663) rectangle (240,3694);
\filldraw[fill=cazure,rl] (193,3663) rectangle (240,3674);
\fill[cred] (72,3670) circle[radius=4.5pt]; \T[text=cred]{45,3671}{A}
\fill[cred] (155,3703) circle[radius=4.5pt]; \T[text=cred]{177,3713}{B}
\T{200,3739}{만약에 D의 허용범위에서의\\A의 위치가 위와 같다면,}
\draw[gbox] (398,3621) rectangle (1108,3720);
\room{413}{3627}{788}{3698}{598}{3650}{3650}{cgreen}{cpink}
\D{600}{3665.5}
\T[mid]{495,3655}{0,1차 [자]}\T[mid]{485,3672}{0차 [타]}\T[mid]{715,3651}{1차 [자]}
\RL{505}{690}{3707}
\T[bld]{910,3655}{A의 영향권들}
\T[mid]{993,3679}{[자] = 자영향권}
\T[mid]{993,3696}{[타] = 타영향권}
\T{752,3739}{A의 1차 자영향권은 R2 뿐만 아니라\\R1에도 속하게 된다.}
\draw[hbox] (1185,3620) rectangle (1488,3639); \T[mid]{1336,3629.5}{A가 D를 통과하기 전}
\room{1153}{3644}{1528}{3714}{1338}{3670}{3670}{cgreen}{white}
\D{1340}{3682}
\T[mid]{1232,3671}{0차 [자]}\T[mid]{1232,3688}{0차 [타]}
\RL{1245}{1430}{3724}
\draw[hbox] (1190,3739) rectangle (1483,3758); \T[mid]{1336,3748.5}{A가 D를 통과한 후}
\room{1153}{3763}{1528}{3833}{1338}{3790}{3790}{cpink}{cpink}
\D{1340}{3801.5}
\T[mid]{1228,3784}{1차 [자]}\T[mid]{1458,3784}{1차 [자]}
\RL{1245}{1430}{3843}
\draw (0,3757) -- (1020,3757) .. controls (1110,3760) and (1100,3790) .. (1115,3815) .. controls (1130,3845) and (1150,3855) .. (1200,3855) -- (1568,3855);
\end{tikzpicture}
\end{document}
